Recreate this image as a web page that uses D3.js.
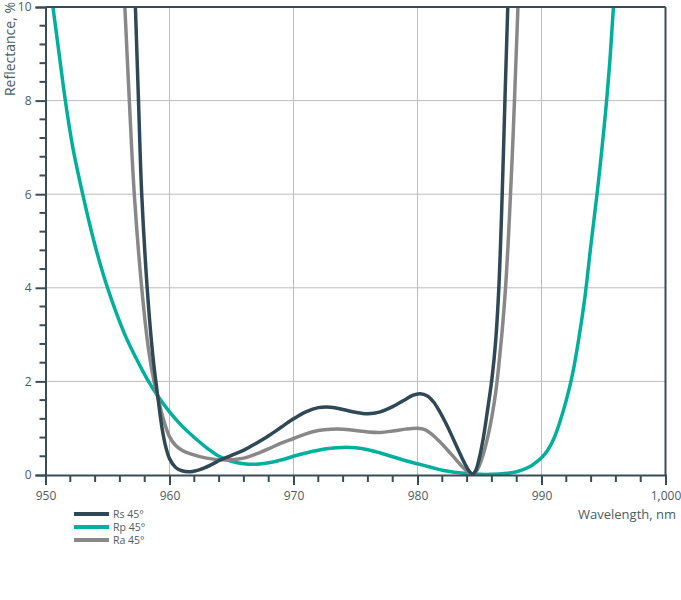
<!DOCTYPE html>
<html>
<head>
<meta charset="utf-8">
<script src="https://cdn.jsdelivr.net/npm/d3@7"></script>
<style>
  html, body { margin: 0; padding: 0; background: #fff; }
  svg { display: block; }
  text { font-family: "Open Sans", "Noto Sans", sans-serif; fill: #4d5b63; }
</style>
</head>
<body>
<svg id="chart" width="681" height="600"></svg>
<script>
// ---- Data ----
const xTicks = [950, 960, 970, 980, 990, 1000];
const yTicks = [0, 2, 4, 6, 8, 10];
const seriesNames = ["Rs 45°", "Rp 45°", "Ra 45°"];
const seriesColors = ["#2f4855", "#00b09c", "#888888"];

const rsWavelength = [957.25, 957.5, 957.76, 958.2, 958.6, 958.85, 959.07, 959.4, 959.7, 960, 960.5, 961, 961.7, 962.5, 963.3, 964.1, 965, 966, 967, 968, 969, 970, 971, 972, 973, 974, 975, 976, 977, 978, 979, 979.6, 980.2, 980.8, 981.3, 981.8, 982.3, 982.8, 983.3, 983.8, 984.2, 984.45, 984.7, 985, 985.3, 985.6, 986, 986.3, 986.56, 986.83, 987.05, 987.28];
const rsValues     = [10, 8, 6, 4, 2.7, 2.1, 1.65, 1.0, 0.6, 0.35, 0.16, 0.09, 0.07, 0.12, 0.21, 0.32, 0.42, 0.53, 0.68, 0.84, 1.02, 1.2, 1.35, 1.44, 1.45, 1.40, 1.34, 1.31, 1.35, 1.46, 1.61, 1.70, 1.735, 1.69, 1.56, 1.35, 1.1, 0.82, 0.53, 0.25, 0.07, 0.02, 0.1, 0.38, 0.78, 1.3, 2.05, 2.85, 4, 6, 8, 10];

const rpWavelength = [950.6, 951, 951.6, 952.2, 953, 953.9, 955, 956.4, 957.3, 958.2, 959.1, 960, 961, 962, 963, 964, 965, 966, 967, 968, 969, 970, 971, 972, 973, 974, 975, 976, 977, 978, 979, 980, 981, 982, 983, 984, 985, 986, 987, 988, 989, 989.5, 990, 990.5, 991, 991.5, 992, 992.5, 993, 993.5, 994, 994.5, 995, 995.25, 995.5, 995.8];
const rpValues     = [10, 9.2, 8, 7, 6, 5, 4, 3, 2.5, 2.05, 1.67, 1.35, 1.05, 0.8, 0.58, 0.4, 0.29, 0.24, 0.23, 0.26, 0.32, 0.4, 0.47, 0.53, 0.57, 0.59, 0.58, 0.54, 0.47, 0.39, 0.31, 0.24, 0.17, 0.1, 0.06, 0.03, 0.015, 0.015, 0.03, 0.07, 0.17, 0.26, 0.37, 0.53, 0.78, 1.15, 1.6, 2.15, 2.9, 3.8, 4.95, 6.05, 7.3, 8, 8.8, 10];

const raWavelength = [956.4, 956.76, 957.16, 957.76, 958.3, 958.75, 959.07, 959.5, 960, 960.5, 961, 961.7, 963, 964.5, 966, 967, 968, 969, 970, 971, 972, 973, 974, 975, 976, 977, 978, 979, 980, 980.6, 981.2, 981.8, 982.4, 983, 983.5, 984, 984.45, 984.8, 985.1, 985.4, 985.7, 986, 986.3, 986.56, 986.85, 987.1, 987.3, 987.5, 987.67, 987.82, 988.1];
const raValues     = [10, 8, 6, 4, 2.7, 2.0, 1.65, 1.2, 0.82, 0.63, 0.53, 0.45, 0.36, 0.32, 0.36, 0.45, 0.56, 0.68, 0.78, 0.88, 0.95, 0.98, 0.98, 0.95, 0.92, 0.91, 0.94, 0.98, 1.0, 0.97, 0.86, 0.71, 0.54, 0.36, 0.21, 0.08, 0.01, 0.1, 0.28, 0.53, 0.85, 1.25, 1.75, 2.35, 3.15, 4, 4.9, 6, 7, 8, 10];

const series = [
  { name: seriesNames[0], color: seriesColors[0], xs: rsWavelength, ys: rsValues },
  { name: seriesNames[1], color: seriesColors[1], xs: rpWavelength, ys: rpValues },
  { name: seriesNames[2], color: seriesColors[2], xs: raWavelength, ys: raValues }
];

// ---- Layout ----
const mLeft = 45.5, mRight = 665.5, mTop = 7, mBottom = 475;
const axisColor = "#3a4d57";
const gridColor = "#bdbdbd";

const svg = d3.select("#chart");
const x = d3.scaleLinear().domain([950, 1000]).range([mLeft, mRight]);
const y = d3.scaleLinear().domain([0, 10]).range([mBottom, mTop]);

// clip
svg.append("defs").append("clipPath").attr("id", "plotClip")
  .append("rect").attr("x", mLeft).attr("y", mTop).attr("width", mRight - mLeft).attr("height", mBottom - mTop);

// gridlines
svg.append("g").selectAll("line").data(xTicks.filter(d => d > 950 && d < 1000)).join("line")
  .attr("x1", d => x(d)).attr("x2", d => x(d)).attr("y1", mTop).attr("y2", mBottom)
  .attr("stroke", gridColor).attr("stroke-width", 1);
svg.append("g").selectAll("line").data(yTicks.filter(d => d > 0 && d < 10)).join("line")
  .attr("x1", mLeft).attr("x2", mRight).attr("y1", d => y(d)).attr("y2", d => y(d))
  .attr("stroke", gridColor).attr("stroke-width", 1);

// curves
const line = d3.line().x(d => x(d[0])).y(d => y(Math.max(0, d[1]))).curve(d3.curveCatmullRom.alpha(0.5));
const plot = svg.append("g").attr("clip-path", "url(#plotClip)");
[series[1], series[2], series[0]].forEach(s => {
  const pts = s.xs.map((w, i) => [w, s.ys[i]]);
  plot.append("path").datum(pts).attr("d", line)
    .attr("fill", "none").attr("stroke", s.color).attr("stroke-width", 3.5)
    .attr("stroke-linejoin", "round").attr("stroke-linecap", "round");
});

// frame (top and right)
svg.append("line").attr("x1", mLeft).attr("x2", mRight).attr("y1", mTop).attr("y2", mTop)
  .attr("stroke", axisColor).attr("stroke-width", 2);
svg.append("line").attr("x1", mRight).attr("x2", mRight).attr("y1", mTop).attr("y2", mBottom)
  .attr("stroke", axisColor).attr("stroke-width", 2);

// x axis
const xAxis = d3.axisBottom(x).tickValues(xTicks).tickSize(10).tickPadding(6)
  .tickFormat(d3.format(","));
const gx = svg.append("g").attr("transform", `translate(0,${mBottom})`).call(xAxis);
gx.select(".domain").attr("stroke", axisColor).attr("stroke-width", 2);
gx.selectAll(".tick line").attr("stroke", axisColor).attr("stroke-width", 2);
gx.selectAll(".tick text").attr("font-size", 12).attr("fill", "#4d5b63")
  .style("font-family", "'Open Sans', sans-serif");
const xMinor = d3.range(950, 1000.001, 2).filter(d => d % 10 !== 0);
svg.append("g").selectAll("line").data(xMinor).join("line")
  .attr("x1", d => x(d)).attr("x2", d => x(d)).attr("y1", mBottom).attr("y2", mBottom + 7)
  .attr("stroke", axisColor).attr("stroke-width", 2);

// y axis
const yAxis = d3.axisLeft(y).tickValues(yTicks).tickSize(10).tickPadding(4);
const gy = svg.append("g").attr("transform", `translate(${mLeft},0)`).call(yAxis);
gy.select(".domain").attr("stroke", axisColor).attr("stroke-width", 2);
gy.selectAll(".tick line").attr("stroke", axisColor).attr("stroke-width", 2);
gy.selectAll(".tick text").attr("font-size", 12).attr("fill", "#4d5b63")
  .style("font-family", "'Open Sans', sans-serif");
const yMinor = d3.range(0, 10.001, 0.4).filter(d => Math.abs(d / 2 - Math.round(d / 2)) > 1e-6);
svg.append("g").selectAll("line").data(yMinor).join("line")
  .attr("x1", mLeft - 6).attr("x2", mLeft).attr("y1", d => y(d)).attr("y2", d => y(d))
  .attr("stroke", axisColor).attr("stroke-width", 2);

// axis titles
svg.append("text").attr("x", 676).attr("y", 519).attr("text-anchor", "end")
  .attr("font-size", 13).text("Wavelength, nm");
svg.append("text").attr("transform", "translate(15,2) rotate(-90)")
  .attr("text-anchor", "end").attr("font-size", 14).text("Reflectance, %");

// legend
const legend = svg.append("g");
series.forEach((s, i) => {
  const ly = 514 + i * 13;
  legend.append("line").attr("x1", 74).attr("x2", 109).attr("y1", ly).attr("y2", ly)
    .attr("stroke", s.color).attr("stroke-width", 4);
  legend.append("text").attr("x", 113).attr("y", ly + 4).attr("font-size", 10.5).text(s.name);
});
</script>
</body>
</html>
